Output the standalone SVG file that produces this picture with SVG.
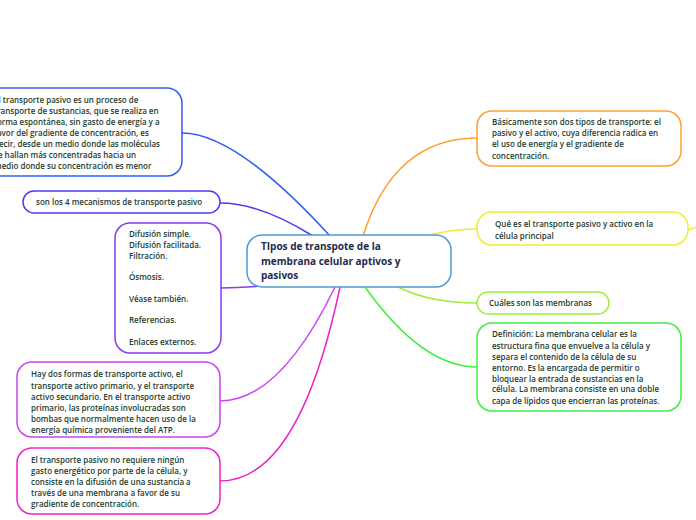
<svg xmlns="http://www.w3.org/2000/svg" width="696" height="520" viewBox="0 0 696 520">
<style>
.box{fill:#ffffff;stroke-width:1.5}
.c{fill:none;stroke-width:1.5}
.t{font-family:"Open Sans","Noto Sans","Liberation Sans",sans-serif;font-size:8px;font-weight:600;fill:#1e3d2e}
.ct{font-family:"Open Sans","Noto Sans","Liberation Sans",sans-serif;font-size:10px;font-weight:700;fill:#1c2b4f}
</style>
<rect width="696" height="520" fill="#ffffff"/>
<g id="connectors">
<path class="c" stroke="#2f5ef0" d="M330,236 Q236,133 182,133"/>
<path class="c" stroke="#4c3cf0" d="M313,236 Q260,203 220,203"/>
<path class="c" stroke="#8a3bef" d="M262,286 Q240,288 221,288"/>
<path class="c" stroke="#cc44ee" d="M335,287 Q280,401 220,401"/>
<path class="c" stroke="#ee22cc" d="M340,287 Q299,481 220,481"/>
<path class="c" stroke="#ffa030" d="M363,236 Q394,138 477,138"/>
<path class="c" stroke="#eeee30" d="M427,236 Q450,229 477,229"/>
<path class="c" stroke="#eeee30" d="M688,230 Q692,228 700,227"/>
<path class="c" stroke="#a0ee40" d="M398,287 Q430,303 477,303"/>
<path class="c" stroke="#40ee40" d="M365,287 Q422,367 477,367"/>
</g>
<g id="central">
<rect class="box" x="247" y="235" width="204" height="52" rx="15" stroke="#4d9ad6" fill="#fbfdff"/>
<text class="ct" x="261" y="250">TIpos de transpote de la</text>
<text class="ct" x="261" y="265">membrana celular aptivos y</text>
<text class="ct" x="261" y="279">pasivos</text>
</g>
<g id="n1">
<rect class="box" x="-20" y="88" width="202" height="88" rx="15" stroke="#2f5ef0"/>
<text class="t" x="-6" y="103">El transporte pasivo es un proceso de</text>
<text class="t" x="-6" y="114">transporte de sustancias, que se realiza en</text>
<text class="t" x="-6" y="125">forma espontánea, sin gasto de energía y a</text>
<text class="t" x="-6" y="136">favor del gradiente de concentración, es</text>
<text class="t" x="-6" y="147">decir, desde un medio donde las moléculas</text>
<text class="t" x="-6" y="158">se hallan más concentradas hacia un</text>
<text class="t" x="-6" y="169">medio donde su concentración es menor</text>
</g>
<g id="n2">
<rect class="box" x="23" y="191" width="197" height="22" rx="11" stroke="#4c3cf0"/>
<text class="t" x="36" y="205">son los 4 mecanismos de transporte pasivo</text>
</g>
<g id="n3">
<rect class="box" x="115" y="223" width="106" height="130" rx="15" stroke="#8a3bef"/>
<text class="t" x="129" y="237">Difusión simple.</text>
<text class="t" x="129" y="248">Difusión facilitada.</text>
<text class="t" x="129" y="259">Filtración.</text>
<text class="t" x="129" y="280">Ósmosis.</text>
<text class="t" x="129" y="302">Véase también.</text>
<text class="t" x="129" y="323">Referencias.</text>
<text class="t" x="129" y="345">Enlaces externos.</text>
</g>
<g id="n4">
<rect class="box" x="17" y="362" width="203" height="75" rx="15" stroke="#cc44ee"/>
<text class="t" x="31" y="377">Hay dos formas de transporte activo, el</text>
<text class="t" x="31" y="388.5">transporte activo primario,  y el transporte</text>
<text class="t" x="31" y="400">activo secundario. En el transporte activo</text>
<text class="t" x="31" y="411">primario, las proteínas involucradas son</text>
<text class="t" x="31" y="422">bombas que normalmente hacen uso de la</text>
<text class="t" x="31" y="432.5">energía química proveniente del ATP.</text>
</g>
<g id="n5">
<rect class="box" x="17" y="448" width="203" height="66" rx="15" stroke="#ee22cc"/>
<text class="t" x="31" y="463">El transporte pasivo no requiere ningún</text>
<text class="t" x="31" y="474">gasto energético por parte de la célula, y</text>
<text class="t" x="31" y="485">consiste en la difusión de una sustancia a</text>
<text class="t" x="31" y="496">través de una membrana a favor de su</text>
<text class="t" x="31" y="507">gradiente de concentración.</text>
</g>
<g id="n6">
<rect class="box" x="477" y="111" width="204" height="55" rx="15" stroke="#ffa030"/>
<text class="t" x="492" y="124.5">Básicamente son dos tipos de transporte: el</text>
<text class="t" x="492" y="136">pasivo y el activo, cuya diferencia radica en</text>
<text class="t" x="492" y="147">el uso de energía y el gradiente de</text>
<text class="t" x="492" y="158.5">concentración.</text>
</g>
<g id="n7">
<rect class="box" x="477" y="212" width="211" height="33" rx="15" stroke="#eeee30"/>
<text class="t" x="495" y="227">Qué es el transporte pasivo y activo en la</text>
<text class="t" x="495" y="238.5">célula principal</text>
</g>
<g id="n8">
<rect class="box" x="477" y="292" width="132" height="22" rx="11" stroke="#a0ee40"/>
<text class="t" x="489" y="306">Cuáles son las membranas</text>
</g>
<g id="n9">
<rect class="box" x="477" y="323" width="204" height="88" rx="15" stroke="#40ee40"/>
<text class="t" x="492" y="337">Definición: La membrana celular es la</text>
<text class="t" x="492" y="348.5">estructura fina que envuelve a la célula y</text>
<text class="t" x="492" y="359.5">separa el contenido de la célula de su</text>
<text class="t" x="492" y="370.5">entorno. Es la encargada de permitir o</text>
<text class="t" x="492" y="381.5">bloquear la entrada de sustancias en la</text>
<text class="t" x="492" y="392">célula. La membrana consiste en una doble</text>
<text class="t" x="492" y="403.5">capa de lípidos que encierran las proteínas.</text>
</g>
</svg>
